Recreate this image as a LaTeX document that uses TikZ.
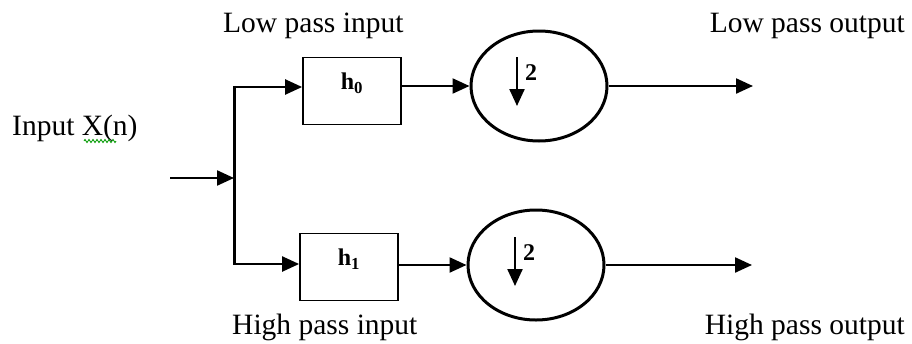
\documentclass[tikz,border=0pt]{standalone}
\usepackage{fontspec}
\setmainfont{Liberation Serif}
\usetikzlibrary{arrows.meta,shapes.geometric,decorations.pathmorphing,calc}
\begin{document}
\begin{tikzpicture}[x=1pt,y=-1pt,
  lbl/.style={font=\fontsize{29.5}{32}\selectfont, inner sep=0pt},
  filt/.style={draw, line width=1.8pt, minimum width=98pt, minimum height=67pt, inner sep=0pt},
  dsamp/.style={draw, ellipse, line width=3pt, minimum width=136pt, minimum height=110pt, inner sep=0pt},
  arr/.style={line width=2.3pt, -{Triangle[length=17pt,width=15pt]}},
  small/.style={font=\fontsize{24}{26}\selectfont\bfseries, inner sep=0pt}]
\useasboundingbox (0,0) rectangle (912,343);

% labels
\node[lbl, anchor=base west] (lin) at (12,135) {Input X(n)};
\node[lbl, anchor=base west] (lpi) at (223,32) {Low pass input};
\node[lbl, anchor=base east] (lpo) at (905,32) {Low pass output};
\node[lbl, anchor=base west] (hpi) at (232,334) {High pass input};
\node[lbl, anchor=base east] (hpo) at (905,334) {High pass output};
\draw[green!60!black, line width=0.8pt, decorate, decoration={zigzag, amplitude=1.6pt, segment length=4pt}] (84,141) -- (116,141);

% filters
\node[filt] (h0) at (352,91) {};
\node[small] (h0t) at (352,83) {h\textsubscript{0}};
\node[filt] (h1) at (349,267) {};
\node[small] (h1t) at (349,259) {h\textsubscript{1}};

% downsamplers
\node[dsamp] (e0) at (539,86) {};
\node[dsamp] (e1) at (536,265) {};
\draw[arr] ($(e0.center)+(-22,-29)$) coordinate (d0a) -- ($(e0.center)+(-22,20)$) coordinate (d0b);
\node[small] (t0) at ($(e0.center)+(-8,-13)$) {2};
\draw[arr] ($(e1.center)+(-21,-28)$) coordinate (d1a) -- ($(e1.center)+(-21,21)$) coordinate (d1b);
\node[small] (t1) at ($(e1.center)+(-7,-12)$) {2};

% input tree
\coordinate (in) at (170,178);
\coordinate (jn) at (234,178);
\coordinate (tc) at (234,87);
\coordinate (bc) at (234,264);
\draw[arr] (in) -- (jn);
\draw[line width=3pt] ($(tc)+(0,-1.2)$) -- ($(bc)+(0,1.2)$);
\draw[arr] (tc) -- (tc -| h0.west);
\draw[arr] (bc) -- (bc -| h1.west);

% filter to downsampler
\draw[arr] (h0.east |- e0.west) -- (e0.west);
\draw[arr] (h1.east |- e1.west) -- (e1.west);

% outputs
\coordinate (o0) at (753,86);
\coordinate (o1) at (752,265);
\draw[arr] (e0.east) -- (o0);
\draw[arr] (e1.east) -- (o1);
\end{tikzpicture}
\end{document}
